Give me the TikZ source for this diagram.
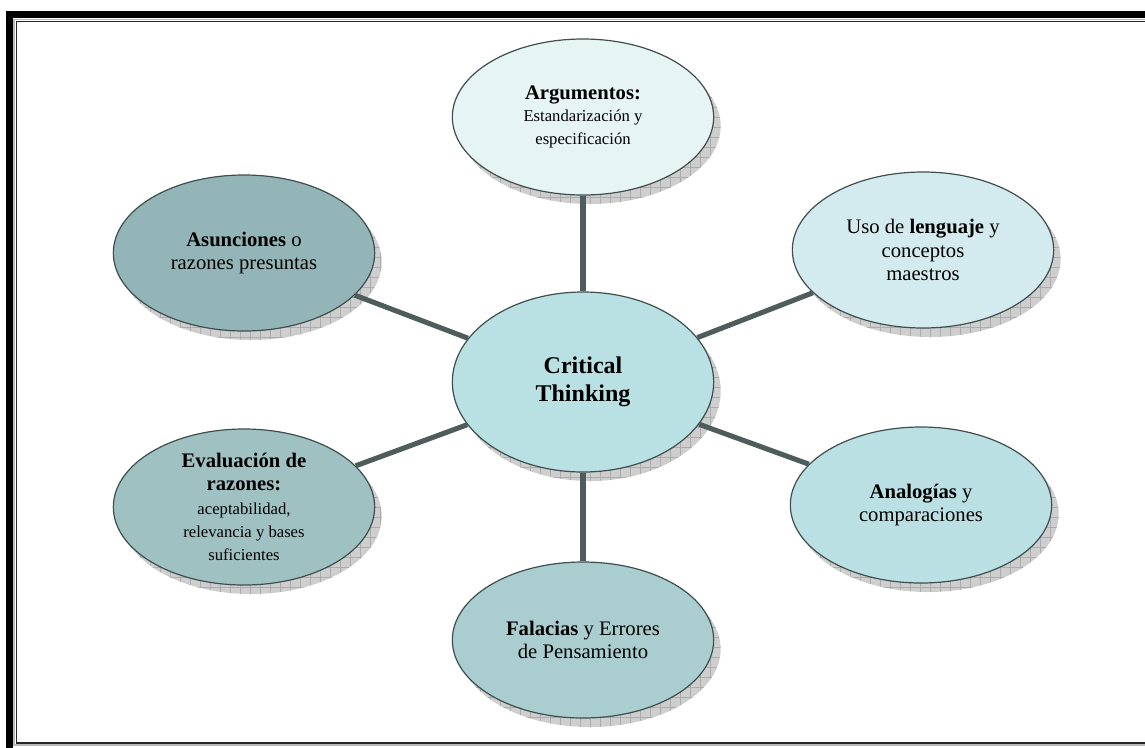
\documentclass[tikz,border=0pt]{standalone}
\usepackage{fontspec}
\setmainfont{Liberation Serif}
\usetikzlibrary{shapes.geometric,patterns.meta}
\definecolor{rim}{RGB}{62,78,78}
\definecolor{spokecol}{RGB}{78,92,92}
\definecolor{shadowgray}{RGB}{206,206,206}
\definecolor{gridgray}{RGB}{172,172,172}
\definecolor{argfill}{RGB}{230,244,244}
\definecolor{usofill}{RGB}{211,235,238}
\definecolor{critfill}{RGB}{185,224,227}
\definecolor{anafill}{RGB}{187,224,228}
\definecolor{falfill}{RGB}{170,206,208}
\definecolor{evafill}{RGB}{160,193,194}
\definecolor{asufill}{RGB}{148,181,183}
\tikzset{
  bubble/.style={ellipse, draw=rim, line width=0.9pt, inner sep=0pt,
    minimum width=196pt, minimum height=117pt, align=center,
    font=\fontsize{15.5}{17.5}\selectfont,
    preaction={draw=none, fill=shadowgray, transform canvas={shift={(7,9)}}},
    preaction={draw=none, pattern={Lines[distance=7.5pt,line width=0.5pt]}, pattern color=gridgray, transform canvas={shift={(7,9)}}},
    preaction={draw=none, pattern={Lines[distance=7.5pt,angle=90,line width=0.5pt]}, pattern color=gridgray, transform canvas={shift={(7,9)}}}},
  spoke/.style={draw=spokecol, line width=3.8pt}
}
\newcommand{\smalltxt}{\fontsize{12.5}{14.5}\selectfont}

\begin{document}
\begin{tikzpicture}[x=0.75pt,y=-0.75pt]
			%%%%% START %%%%%
			\clip (0,0) rectangle (1145,747);
			\fill[white] (0,0) rectangle (1145,747);
			
			% frame
			\draw[line width=5.25pt] (9.5,14.5) rectangle (1200,800);
			\draw[gray!55, line width=1.1pt] (14,19.5) rectangle (1200,745);
			\draw[black!85, line width=1.1pt] (16.5,21.5) rectangle (1200,743);
			
			% bubbles
			\node[bubble, fill=argfill] (arg) at (583,117) {\textbf{Argumentos:}\\[-1pt] {\smalltxt Estandarización y}\\ {\smalltxt especificación}};
			\node[bubble, fill=usofill] (uso) at (923,250) {Uso de \textbf{lenguaje} y\\ conceptos\\ maestros};
			\node[bubble, fill=asufill] (asu) at (244,253) {\raisebox{9pt}{\begin{tabular}{@{}c@{}}\textbf{Asunciones} o\\ razones presuntas\end{tabular}}};
			\node[bubble, fill=critfill, minimum height=135pt, font=\fontsize{18}{21}\selectfont\bfseries] (crit) at (583,382) {Critical\\ Thinking};
			\node[bubble, fill=evafill] (eva) at (244,507) {\textbf{Evaluación de}\\ \textbf{razones:}\\ {\smalltxt aceptabilidad,}\\ {\smalltxt relevancia y bases}\\ {\smalltxt suficientes}};
			\node[bubble, fill=anafill] (ana) at (921,505) {\textbf{Analogías} y\\ comparaciones};
			\node[bubble, fill=falfill] (fal) at (583,640) {\textbf{Falacias} y Errores\\ de Pensamiento};
			
			% spokes
			\draw[spoke] (crit) -- (arg);
			\draw[spoke] (crit) -- (uso);
			\draw[spoke] (crit) -- (ana);
			\draw[spoke] (crit) -- (fal);
			\draw[spoke] (crit) -- (eva);
			\draw[spoke] (crit) -- (asu);
			%%%%% END %%%%%
		\end{tikzpicture}
\end{document}
